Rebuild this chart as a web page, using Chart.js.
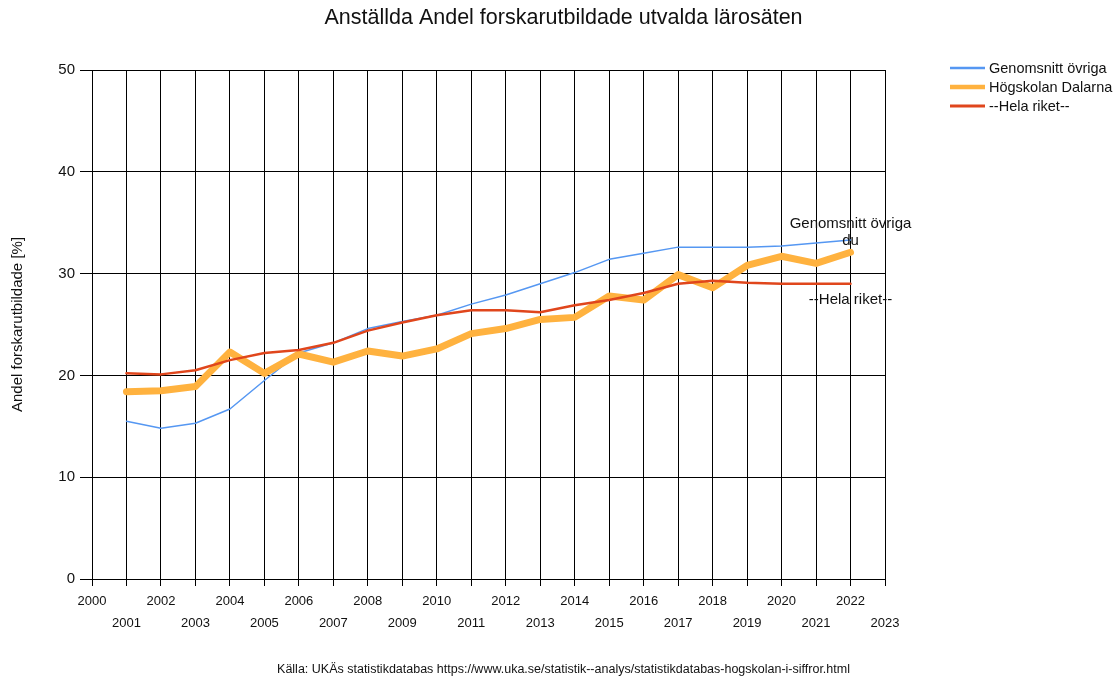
<!DOCTYPE html>
<html>
<head>
<meta charset="utf-8">
<script src="https://cdn.jsdelivr.net/npm/chart.js@4"></script>
<style>
  html, body { margin: 0; padding: 0; background: #fff; }
</style>
</head>
<body>
<canvas id="myChart" width="1118" height="677"></canvas>
<script>
// data
var years = [2001, 2002, 2003, 2004, 2005, 2006, 2007, 2008, 2009, 2010, 2011,
             2012, 2013, 2014, 2015, 2016, 2017, 2018, 2019, 2020, 2021, 2022];
var genomsnittOvriga = [15.5, 14.8, 15.3, 16.7, 19.5, 22.2, 23.2, 24.6, 25.3, 25.9, 27.0,
                        27.9, 29.0, 30.1, 31.4, 32.0, 32.6, 32.6, 32.6, 32.7, 33.0, 33.3];
var hogskolanDalarna = [18.4, 18.5, 18.9, 22.3, 20.2, 22.1, 21.3, 22.4, 21.9, 22.6, 24.1,
                        24.6, 25.5, 25.7, 27.8, 27.4, 29.9, 28.6, 30.8, 31.7, 31.0, 32.1];
var helaRiket = [20.2, 20.1, 20.5, 21.5, 22.2, 22.5, 23.2, 24.4, 25.2, 25.9, 26.4,
                 26.4, 26.2, 26.9, 27.4, 28.1, 29.0, 29.3, 29.1, 29.0, 29.0, 29.0];
var seriesNames = ['Genomsnitt övriga', 'Högskolan Dalarna', '--Hela riket--'];
var endLabels = [['Genomsnitt övriga', 'du'], null, ['--Hela riket--']];
var xMin = 2000, xMax = 2023;
var yMin = 0, yMax = 50, yStep = 10;

var titleText = 'Anställda Andel forskarutbildade utvalda lärosäten';
var yTitle = 'Andel forskarutbildade [%]';
var sourceText = 'Källa: UKÄs statistikdatabas https://www.uka.se/statistik--analys/statistikdatabas-hogskolan-i-siffror.html';

Chart.defaults.font.family = '"Liberation Sans", Arial, sans-serif';
Chart.defaults.color = '#111';

function toPoints(vals) {
  return years.map(function(y, i) { return { x: y, y: vals[i] }; });
}

// legend at the right side, drawn by hand
var sideLegend = {
  id: 'sideLegend',
  afterDraw: function(chart) {
    var ctx = chart.ctx;
    var x0 = 950, y0 = 68;
    chart.data.datasets.forEach(function(ds, i) {
      var y = y0 + i * 19;
      ctx.save();
      ctx.strokeStyle = ds.borderColor;
      ctx.lineWidth = ds.legendWidth;
      ctx.beginPath();
      ctx.moveTo(x0, y);
      ctx.lineTo(x0 + 35, y);
      ctx.stroke();
      ctx.fillStyle = '#111';
      ctx.font = '14.5px "Liberation Sans", Arial';
      ctx.textBaseline = 'middle';
      ctx.fillText(ds.label, x0 + 39, y + 1);
      ctx.restore();
    });
  }
};

// labels at the last point of a series
var pointLabels = {
  id: 'pointLabels',
  afterDatasetsDraw: function(chart) {
    var ctx = chart.ctx;
    chart.data.datasets.forEach(function(ds, i) {
      var lines = endLabels[i];
      if (!lines) return;
      var meta = chart.getDatasetMeta(i);
      var pt = meta.data[meta.data.length - 1];
      ctx.save();
      ctx.fillStyle = '#111';
      ctx.font = '15px "Liberation Sans", Arial';
      ctx.textAlign = 'center';
      ctx.textBaseline = 'middle';
      if (lines.length === 2) {
        ctx.fillText(lines[0], pt.x, pt.y - 16);
        ctx.fillText(lines[1], pt.x, pt.y + 1);
      } else {
        ctx.fillText(lines[0], pt.x, pt.y + 16);
      }
      ctx.restore();
    });
  }
};

var ctx = document.getElementById('myChart').getContext('2d');
var chart = new Chart(ctx, {
  type: 'line',
  data: {
    datasets: [{
      label: seriesNames[0],
      data: toPoints(genomsnittOvriga),
      borderColor: '#5597f2',
      borderWidth: 1.5,
      legendWidth: 2.5,
      order: 2
    }, {
      label: seriesNames[1],
      data: toPoints(hogskolanDalarna),
      borderColor: '#ffb23f',
      borderWidth: 7,
      legendWidth: 4.5,
      order: 1
    }, {
      label: seriesNames[2],
      data: toPoints(helaRiket),
      borderColor: '#e0461c',
      borderWidth: 2.5,
      legendWidth: 3,
      order: 0
    }]
  },
  options: {
    responsive: false,
    devicePixelRatio: 1,
    animation: false,
    elements: {
      point: { radius: 0, hoverRadius: 0 },
      line: { tension: 0, fill: false, borderJoinStyle: 'round', borderCapStyle: 'round' }
    },
    layout: { padding: { left: 9, right: 0, top: 0, bottom: 0 } },
    plugins: {
      legend: { display: false },
      tooltip: { enabled: false },
      title: {
        display: true,
        text: titleText,
        color: '#111',
        font: { size: 21.5, weight: 'normal' },
        padding: { top: 5, bottom: 39.2 }
      },
      subtitle: {
        display: true,
        position: 'bottom',
        text: sourceText,
        color: '#111',
        font: { size: 12.5, weight: 'normal' },
        padding: { top: 10, bottom: 0 }
      }
    },
    scales: {
      x: {
        type: 'linear',
        min: xMin,
        max: xMax,
        afterFit: function(s) { s.height = 73; },
        ticks: {
          stepSize: 1,
          autoSkip: false,
          maxRotation: 0,
          padding: 4,
          color: '#111',
          font: { size: 13, lineHeight: '22px' },
          callback: function(v) {
            return v % 2 === 0 ? [String(v), ''] : ['', String(v)];
          }
        },
        grid: { color: '#000', lineWidth: 1, tickLength: 7 },
        border: { color: '#000', width: 1 }
      },
      y: {
        min: yMin,
        max: yMax,
        afterFit: function(s) { s.width = 83; },
        ticks: { stepSize: yStep, padding: 5, color: '#111', font: { size: 15 } },
        grid: { color: '#000', lineWidth: 1, tickLength: 12 },
        border: { color: '#000', width: 1 },
        title: {
          display: true,
          text: yTitle,
          color: '#111',
          font: { size: 15 },
          padding: 0
        }
      },
      yR: {
        position: 'right',
        display: true,
        grid: { display: false },
        border: { display: false },
        ticks: { display: false },
        afterFit: function(s) { s.width = 233; }
      }
    }
  },
  plugins: [sideLegend, pointLabels]
});
</script>
</body>
</html>
